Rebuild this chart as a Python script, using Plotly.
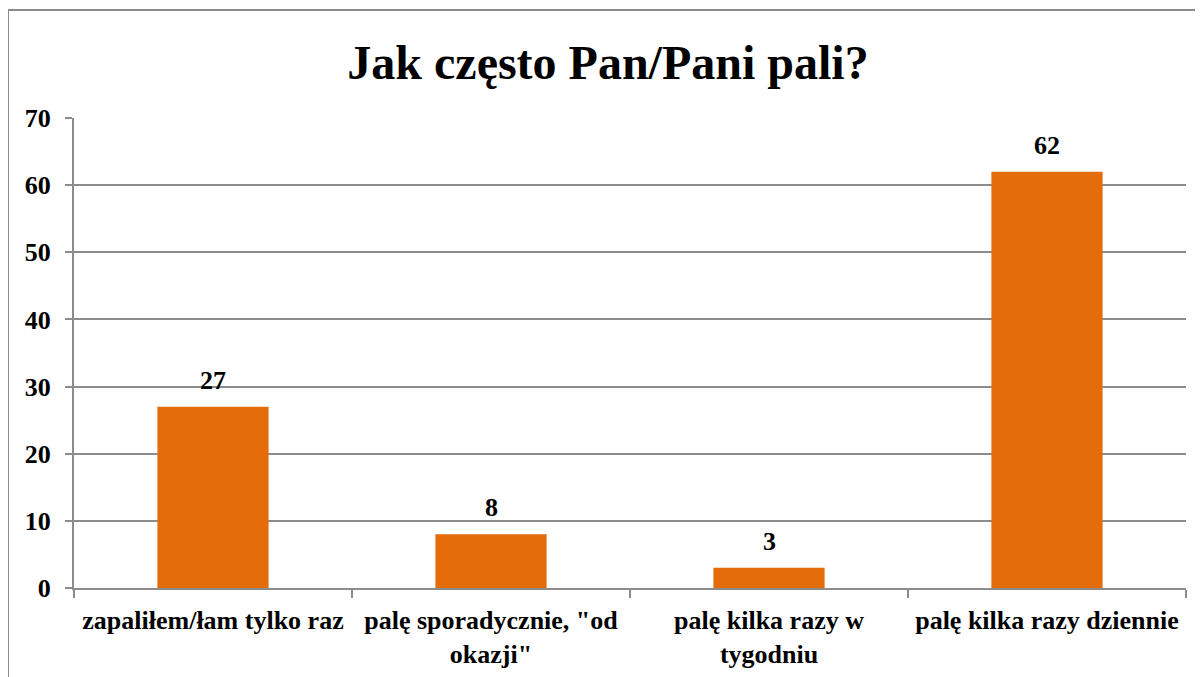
import plotly.graph_objects as go

categories = ["zapaliłem/łam tylko raz", "palę sporadycznie, \"od<br>okazji\"", "palę kilka razy w<br>tygodniu", "palę kilka razy dziennie"]
values = [27, 8, 3, 62]
y_ticks = [0, 10, 20, 30, 40, 50, 60, 70]

FONT = "Liberation Serif, Times New Roman, serif"
GRAY = "#8c8c8c"
ORANGE = "#E46C0A"

# page has an 8px body margin; figure coords = page coords - 8
W, H = 1203, 677
L, R, T, B = 66, 25, 110, 97
pw, ph = W - L - R, H - T - B

fig = go.Figure(go.Bar(
    x=categories, y=values,
    marker=dict(color=ORANGE, line=dict(width=0)),
    cliponaxis=False,
))

for c, v in zip(categories, values):
    fig.add_annotation(x=c, y=v, text=f"<b>{v}</b>", showarrow=False,
                       yanchor="bottom", yshift=10,
                       font=dict(family=FONT, size=26, color="black"))

# outer chart frame
x0 = (0 - L) / pw
y1 = (H - B - 2) / ph
x1 = (W + 20 - L) / pw
y0 = (H - B - (H + 20)) / ph
fig.add_shape(type="rect", xref="paper", yref="paper", x0=x0, x1=x1, y0=y0, y1=y1,
              line=dict(color=GRAY, width=2), fillcolor="rgba(0,0,0,0)", layer="below")

fig.update_layout(
    width=W, height=H,
    margin=dict(l=L, r=R, t=T, b=B),
    paper_bgcolor="white", plot_bgcolor="white",
    bargap=0.6, showlegend=False,
    title=dict(text="<b>Jak często Pan/Pani pali?</b>", x=600 / W, xanchor="center",
               y=1 - 54 / H, yanchor="middle", yref="container",
               font=dict(family=FONT, size=48, color="black")),
    font=dict(family=FONT, color="black"),
)
fig.update_xaxes(
    showline=True, linecolor=GRAY, linewidth=2,
    ticks="outside", tickson="boundaries", ticklen=8, tickcolor=GRAY, tickwidth=2,
    tickfont=dict(family=FONT, size=26, color="black"),
    tickprefix="<b>", ticksuffix="</b>",
    ticklabelstandoff=8,
    showgrid=False,
)
fig.update_yaxes(
    range=[0, 70], tickvals=y_ticks, ticktext=[f"<b>{v}</b>" for v in y_ticks],
    showline=True, linecolor=GRAY, linewidth=2,
    ticks="outside", ticklen=7, tickcolor=GRAY, tickwidth=2,
    showgrid=True, gridcolor=GRAY, gridwidth=2,
    tickfont=dict(family=FONT, size=26, color="black"),
    ticklabelstandoff=9,
    zeroline=False,
)

fig.write_html("out.html")
